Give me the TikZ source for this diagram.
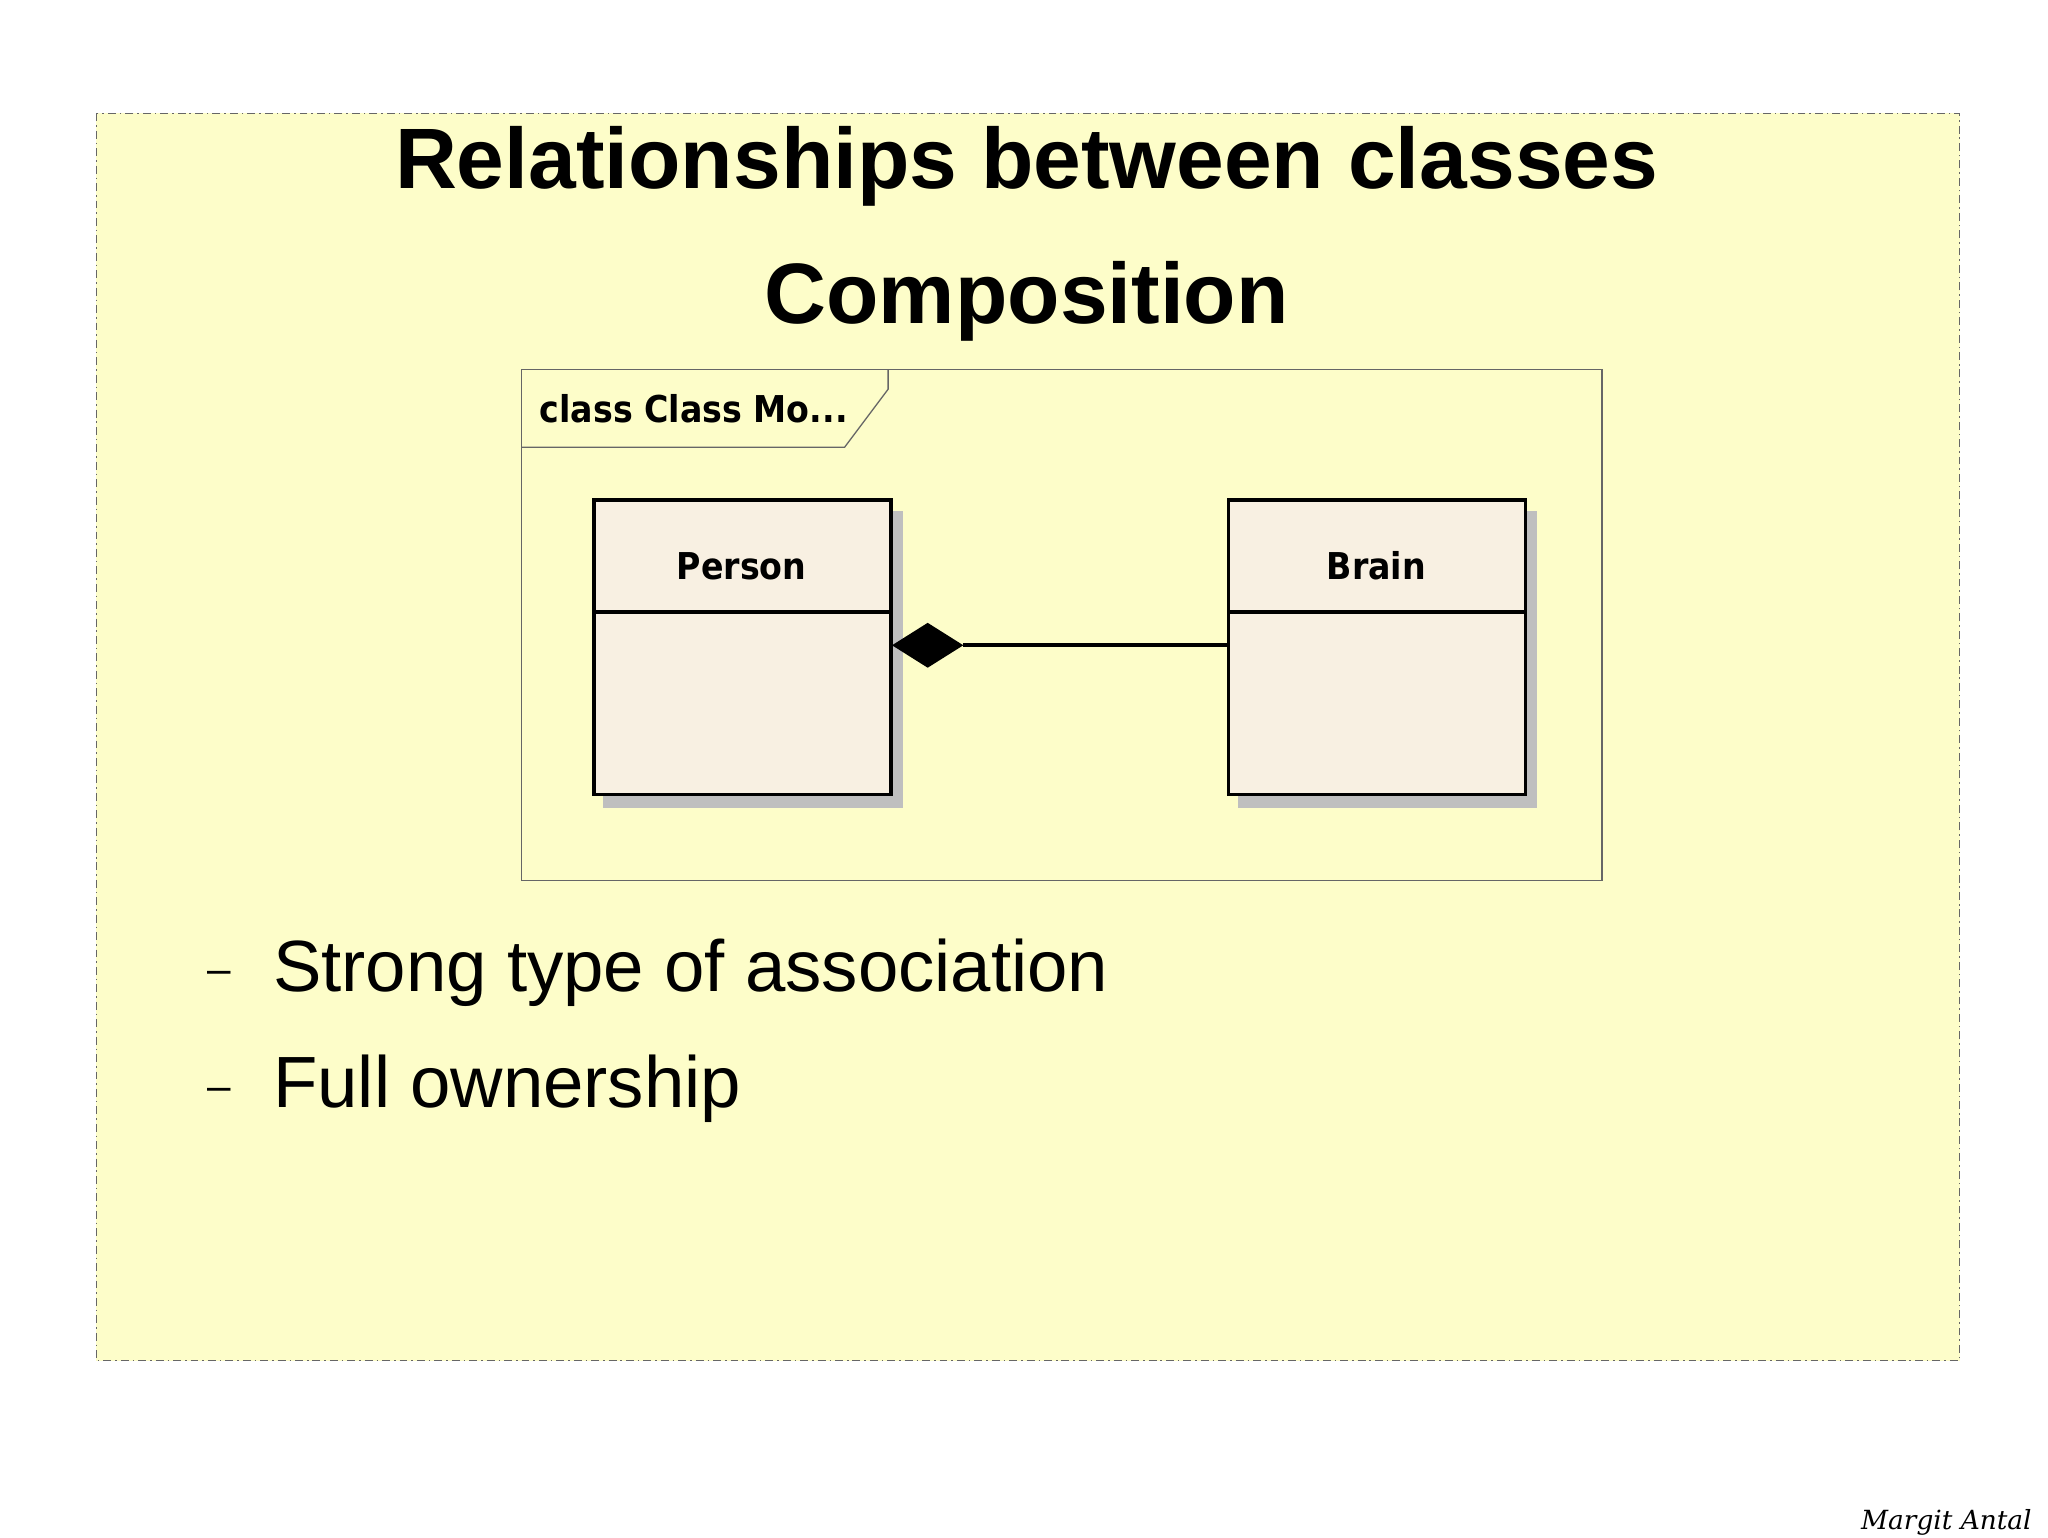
\documentclass[tikz,border=0pt]{standalone}
\usepackage{fontspec}
\setmainfont{Liberation Sans}
\newfontfamily\umlf{DejaVu Sans Condensed}
\newfontfamily\sigf{DejaVu Serif}
\definecolor{slide}{HTML}{FDFDC9}
\definecolor{cls}{HTML}{F8F0E2}
\begin{document}
\begin{tikzpicture}[x=0.5pt,y=-0.5pt,
  box/.style={draw=black,line width=1.4pt,fill=cls},
  shadow/.style={fill=black!25,draw=none},
  uml/.style={font=\umlf\bfseries\fontsize{14}{16}\selectfont},
  bullet/.style={font=\fontsize{27.5}{32}\selectfont,anchor=west}]
\useasboundingbox (0,0) rectangle (1552,1165);
\fill[white] (0,0) rectangle (1552,1165);
\draw[black!60,dash pattern=on 3pt off 1.5pt on 0.6pt off 1.5pt,fill=slide] (73,86) rectangle (1485,1031);
\node[font=\bfseries\fontsize{32.5}{38}\selectfont] (t1) at (778,126) {Relationships between classes};
\node[font=\bfseries\fontsize{32.5}{38}\selectfont] (t2) at (778,228) {Composition};
\draw[black!60,line width=0.5pt] (395,280) rectangle (1214,667);
\draw[black!60,line width=0.5pt] (395,339) -- (640,339) -- (673,295) -- (673,280);
\node[uml,anchor=west] (pk) at (402,310) {class Class Mo...};
\fill[shadow] (457,387) rectangle (684,612);
\fill[shadow] (938,387) rectangle (1165,612);
\draw[box] (450,379) rectangle (675,602);
\draw[line width=1.4pt] (450,464) -- (675,464);
\node[uml] (person) at (562,429) {Person};
\draw[box] (931,379) rectangle (1156,602);
\draw[line width=1.4pt] (931,464) -- (1156,464);
\node[uml] (brain) at (1043,429) {Brain};
\coordinate (d) at (730,489);
\coordinate (b) at (931,489);
\fill (676,489) -- (703,472) -- (730,489) -- (703,506) -- cycle;
\draw[line width=1.4pt] (d) -- (b);
\node[font=\fontsize{16}{20}\selectfont] (d1) at (166,741) {–};
\node[bullet] (b1) at (200,737) {Strong type of association};
\node[font=\fontsize{16}{20}\selectfont] (d2) at (166,829) {–};
\node[bullet] (b2) at (200,825) {Full ownership};
\node[font=\sigf\itshape\fontsize{10}{12}\selectfont] (sig) at (1475,1154) {Margit Antal};
\end{tikzpicture}
\end{document}
